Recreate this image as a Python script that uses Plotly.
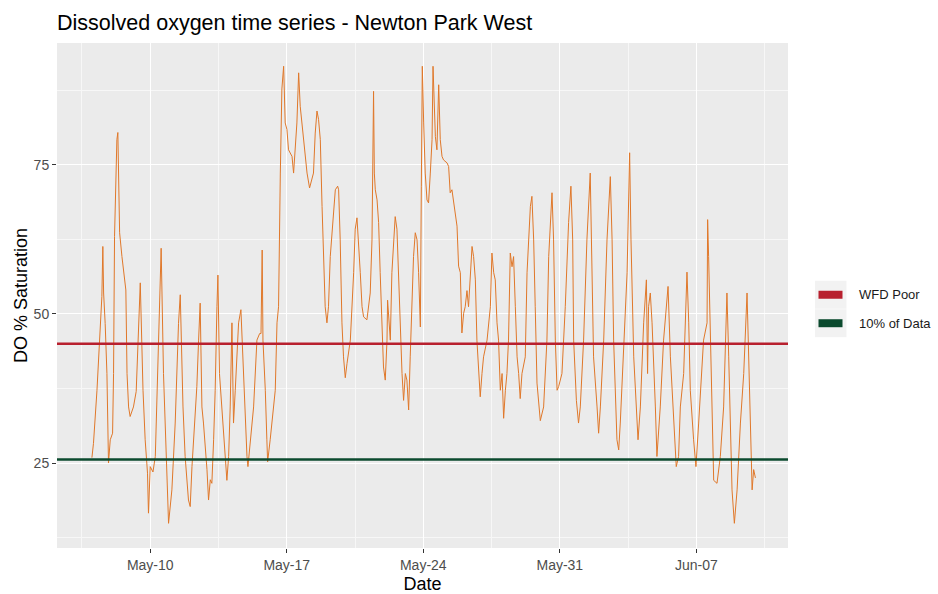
import numpy as np
import pandas as pd
import plotly.graph_objects as go

# ---------------- data ----------------
# time as decimal day-of-May 2021 (values > 31 fall in June)
time_day = [
    7.01, 7.09, 7.27, 7.40, 7.52, 7.57, 7.61, 7.69, 7.78, 7.86, 7.95, 8.07, 8.12, 8.17, 8.29, 8.34,
    8.43, 8.55, 8.63, 8.75, 8.81, 8.89, 8.97, 9.14, 9.28, 9.40, 9.49, 9.63, 9.74, 9.86, 9.91, 10.00,
    10.14, 10.26, 10.37, 10.48, 10.56, 10.68, 10.82, 10.89, 10.94, 11.11, 11.28, 11.45, 11.54, 11.68,
    11.79, 11.96, 12.05, 12.14, 12.22, 12.39, 12.48, 12.56, 12.65, 12.73, 12.91, 12.99, 13.08, 13.16,
    13.25, 13.33, 13.42, 13.47, 13.55, 13.68, 13.85, 13.93, 14.02, 14.10, 14.19, 14.27, 14.36, 14.45,
    14.53, 14.65, 14.78, 14.87, 14.96, 15.01, 15.13, 15.22, 15.30, 15.47, 15.61, 15.68, 15.74, 15.78,
    15.90, 15.98, 16.02, 16.15, 16.32, 16.41, 16.50, 16.58, 16.67, 16.75, 16.84, 16.92, 17.01, 17.09,
    17.27, 17.35, 17.52, 17.61, 17.69, 17.78, 17.86, 18.04, 18.17, 18.37, 18.46, 18.55, 18.63, 18.72,
    18.81, 18.89, 18.97, 19.06, 19.14, 19.23, 19.40, 19.49, 19.61, 19.66, 19.74, 19.83, 19.91, 20.00,
    20.09, 20.26, 20.43, 20.51, 20.60, 20.68, 20.77, 20.86, 20.94, 21.11, 21.28, 21.37, 21.42, 21.45,
    21.49, 21.54, 21.63, 21.71, 21.79, 21.88, 21.96, 22.05, 22.14, 22.17, 22.27, 22.31, 22.39, 22.48,
    22.56, 22.65, 22.73, 22.82, 22.91, 22.99, 23.08, 23.16, 23.25, 23.33, 23.42, 23.50, 23.59, 23.68,
    23.76, 23.85, 23.90, 23.95, 24.02, 24.10, 24.19, 24.27, 24.36, 24.45, 24.50, 24.56, 24.62, 24.70,
    24.79, 24.87, 24.96, 25.04, 25.22, 25.30, 25.38, 25.47, 25.64, 25.73, 25.81, 25.90, 25.98, 26.07,
    26.15, 26.24, 26.32, 26.41, 26.50, 26.58, 26.67, 26.75, 26.84, 26.92, 27.01, 27.09, 27.27, 27.44,
    27.52, 27.61, 27.69, 27.78, 27.86, 27.95, 28.04, 28.12, 28.21, 28.29, 28.37, 28.46, 28.55, 28.63,
    28.72, 28.81, 28.89, 28.97, 29.06, 29.14, 29.23, 29.32, 29.49, 29.57, 29.66, 29.74, 29.83, 30.00,
    30.17, 30.34, 30.43, 30.60, 30.68, 30.77, 30.86, 30.94, 31.11, 31.28, 31.45, 31.57, 31.66, 31.71,
    31.85, 31.96, 32.05, 32.22, 32.39, 32.56, 32.65, 32.73, 32.91, 32.99, 33.08, 33.25, 33.42, 33.59,
    33.68, 33.76, 33.93, 34.02, 34.10, 34.27, 34.45, 34.58, 34.65, 34.79, 34.96, 35.01, 35.13, 35.30,
    35.44, 35.47, 35.50, 35.55, 35.64, 35.73, 35.81, 35.90, 35.98, 36.15, 36.32, 36.55, 36.67, 36.84,
    36.97, 37.09, 37.18, 37.35, 37.52, 37.61, 37.69, 37.86, 37.98, 38.12, 38.37, 38.55, 38.58, 38.63,
    38.72, 38.81, 38.89, 39.06, 39.23, 39.40, 39.57, 39.66, 39.74, 39.83, 39.95, 40.09, 40.26, 40.43,
    40.60, 40.68, 40.77, 40.86, 40.94, 41.03,
]
do_saturation = [
    25.9, 28.3, 37.2, 45.6, 52.9, 61.3, 53.5, 48.4, 40.0, 25.0, 28.9, 30.0, 40.0, 63.0, 79.2, 80.4,
    63.6, 59.6, 56.9, 54.0, 40.0, 34.4, 32.8, 34.4, 37.0, 48.5, 55.2, 37.2, 28.9, 23.3, 16.6, 24.4,
    23.5, 26.1, 40.0, 55.0, 61.0, 40.0, 26.1, 18.8, 14.9, 20.5, 31.7, 48.4, 53.2, 34.4,
    26.1, 18.8, 17.7, 24.4, 28.9, 37.8, 45.6, 51.8, 34.4, 31.7, 23.9, 18.8, 22.2, 21.6,
    28.9, 37.2, 51.2, 56.5, 40.0, 34.4, 26.1, 22.1, 26.1, 34.4, 48.5, 31.7, 37.2, 42.8,
    48.5, 50.7, 40.0, 34.4, 26.1, 24.4, 28.9, 31.7, 34.4, 45.6, 46.7, 46.7, 60.7, 45.6,
    37.2, 28.9, 25.2, 28.9, 34.4, 37.2, 48.5, 51.2, 73.6, 87.7, 91.5, 82.0, 80.9, 77.5,
    76.4, 73.6, 82.0, 90.4, 84.8, 82.0, 79.2, 73.6, 71.1, 73.6, 80.3, 84.0, 82.6, 79.2,
    68.0, 59.6, 51.2, 48.5, 51.2, 59.6, 68.0, 70.8, 71.4, 70.8, 62.4, 48.5, 42.8, 39.3,
    41.7, 45.6, 56.9, 64.2, 66.1, 62.4, 56.9, 51.2, 49.5, 49.0, 53.5, 62.4, 73.6, 87.3,
    73.6, 70.8, 69.1, 65.3, 56.9, 48.5, 41.1, 38.9, 45.6, 52.3, 48.5, 45.6, 56.9, 62.4,
    66.3, 64.2, 56.9, 45.6, 40.0, 35.5, 40.0, 38.9, 33.9, 42.8, 53.9, 59.6, 63.6, 62.4,
    56.9, 47.8, 71.4, 91.5, 82.0, 73.6, 69.1, 68.6, 73.6, 79.2, 91.5, 84.8, 79.7, 77.5,
    88.4, 79.2, 76.4, 75.8, 75.3, 74.7, 70.3, 70.8, 66.3, 64.7, 58.0, 56.9, 46.8, 50.1,
    51.2, 53.9, 51.2, 56.9, 61.3, 59.6, 55.7, 45.6, 41.1, 36.1, 40.0, 42.8, 45.6, 51.2,
    60.2, 56.9, 55.7, 48.5, 45.6, 37.2, 40.0, 32.5, 37.2, 40.0, 45.6, 60.2, 57.9, 59.6,
    51.2, 42.8, 40.0, 35.8, 40.0, 41.1, 42.8, 56.9, 68.0, 69.7, 62.4, 51.2, 38.4, 32.1,
    34.4, 45.6, 59.6, 70.3, 62.4, 45.6, 37.2, 37.8, 40.0, 51.2, 65.3, 71.4, 62.4, 45.6,
    35.5, 31.7, 34.4, 45.6, 62.4, 73.6, 56.9, 42.8, 34.4, 30.0, 34.4, 45.6, 62.4, 73.0,
    62.4, 45.6, 28.9, 27.2, 31.7, 42.8, 56.9, 77.0, 62.4, 42.8, 31.7, 28.9, 34.4, 48.5,
    55.7, 45.6, 40.0, 51.2, 53.5, 48.5, 42.8, 34.4, 26.1, 34.4, 45.6, 54.6, 42.8, 31.7,
    24.4, 26.1, 34.4, 40.0, 57.0, 48.5, 37.2, 28.9, 24.4, 31.7, 45.6, 48.5, 65.8, 59.6,
    45.6, 31.7, 22.1, 21.6, 26.1, 34.4, 53.5, 42.8, 31.7, 20.5, 14.9, 20.5, 31.7, 40.0,
    53.5, 42.8, 28.9, 20.5, 23.9, 22.5,
]

threshold_names = ["WFD Poor", "10% of Data"]
threshold_values = [45.0, 25.6]
threshold_colors = ["#B8202E", "#0B4A2E"]

x_tick_dates = ["2021-05-10", "2021-05-17", "2021-05-24", "2021-05-31", "2021-06-07"]
y_tick_values = [25, 50, 75]

# ---------------- build ----------------
base = pd.Timestamp("2021-05-01")
times = base + pd.to_timedelta(np.array(time_day) - 1.0, unit="D")

W, H = 938, 594
L, R, T, B = 57, 788, 43, 548.5  # panel edges in px

def px_x(px):
    return (px - L) / (R - L)

def px_y(py):
    return (B - py) / (B - T)

FONT = "Liberation Sans, Arial, sans-serif"

fig = go.Figure()
fig.add_trace(go.Scatter(
    x=times, y=do_saturation, mode="lines",
    line=dict(color="#E0782A", width=1),
    showlegend=False, hoverinfo="x+y",
))

for name, val, col in zip(threshold_names, threshold_values, threshold_colors):
    fig.add_hline(y=val, line=dict(color=col, width=2.6), layer="above")

x_start = base + pd.Timedelta(days=5.22 - 1)
x_end = base + pd.Timedelta(days=42.70 - 1)

fig.update_layout(
    width=W, height=H,
    margin=dict(l=L, r=W - R, t=T, b=H - B, pad=0, autoexpand=False),
    paper_bgcolor="white",
    plot_bgcolor="#EBEBEB",
    font=dict(family=FONT, color="#000000"),
    title=dict(
        text="Dissolved oxygen time series - Newton Park West",
        x=57 / W, xref="container", xanchor="left",
        y=1 - 22 / H, yref="container", yanchor="middle",
        font=dict(size=21.5, color="#000000", family=FONT),
    ),
    showlegend=False,
)

fig.update_xaxes(
    range=[x_start, x_end], automargin=False,
    tickmode="array",
    tickvals=pd.to_datetime(x_tick_dates),
    ticktext=[pd.Timestamp(d).strftime("%b-%d") for d in x_tick_dates],
    ticks="outside", ticklen=4, tickcolor="#333333", tickwidth=1,
    tickfont=dict(size=14, color="#4D4D4D"),
    showgrid=True, gridcolor="white", gridwidth=1.2,
    minor=dict(
        tickmode="array",
        tickvals=[base + pd.Timedelta(days=5.5 + 7 * i) for i in range(6)],
        showgrid=True, gridcolor="#F7F7F7", gridwidth=0.6, ticks="",
    ),
    zeroline=False, showline=False,
    title=dict(text="Date", font=dict(size=18, color="#000000"), standoff=7),
)

fig.update_yaxes(
    range=[10.76, 95.4], automargin=False,
    tickmode="array", tickvals=y_tick_values,
    ticktext=[str(v) for v in y_tick_values],
    ticks="outside", ticklen=4, tickcolor="#333333", tickwidth=1,
    tickfont=dict(size=14, color="#4D4D4D"),
    showgrid=True, gridcolor="white", gridwidth=1.2,
    minor=dict(
        tickmode="array", tickvals=[12.5, 37.5, 62.5, 87.5],
        showgrid=True, gridcolor="#F7F7F7", gridwidth=0.6, ticks="",
    ),
    zeroline=False, showline=False,
    title=dict(text="DO % Saturation", font=dict(size=18, color="#000000"), standoff=1),
)

# manual ggplot-style legend
key_rows = [295, 323.5]
for (name, col), cy in zip(zip(threshold_names, threshold_colors), key_rows):
    fig.add_shape(type="rect", xref="paper", yref="paper",
                  x0=px_x(815), x1=px_x(846.5), y0=px_y(cy + 14), y1=px_y(cy - 14),
                  fillcolor="#F2F2F2", line=dict(width=0), layer="above")
    fig.add_shape(type="rect", xref="paper", yref="paper",
                  x0=px_x(818.5), x1=px_x(842.5), y0=px_y(cy + 4), y1=px_y(cy - 4),
                  fillcolor=col, line=dict(width=0), layer="above")
    fig.add_annotation(text=name, xref="paper", yref="paper",
                       x=px_x(857), y=px_y(cy), xanchor="left", yanchor="middle",
                       showarrow=False, font=dict(size=13, color="#1A1A1A", family=FONT))

fig.write_html("out.html")
